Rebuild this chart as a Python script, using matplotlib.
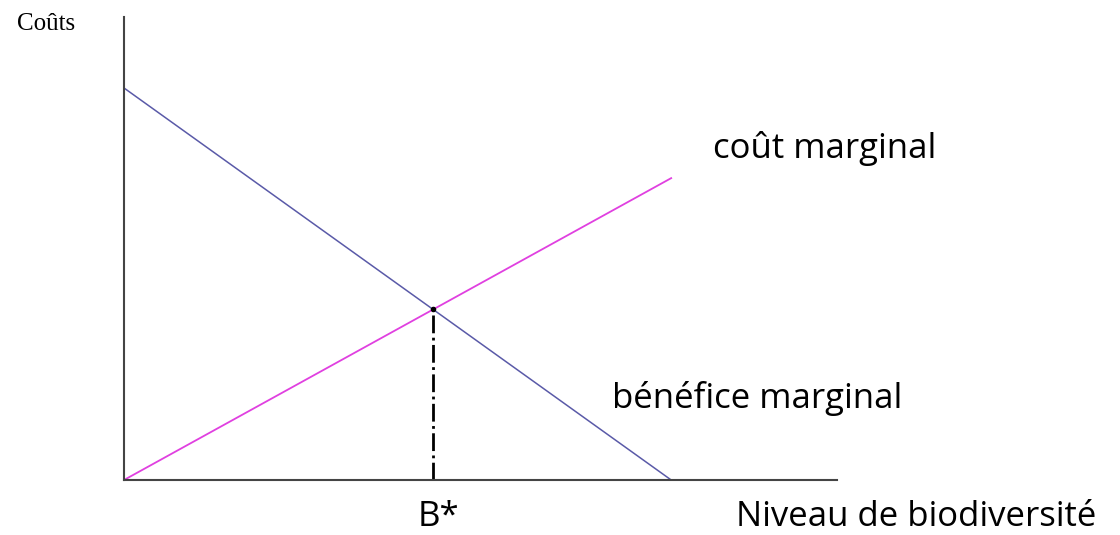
import matplotlib.pyplot as plt

# niveau de biodiversité (unités arbitraires)
niveau = [0, 10]
benefice_marginal = [10, 0]
cout_marginal = [0, 7.7]

# equilibre B*
b_star = 10 / (1 + 7.7 / 10)
c_star = 7.7 / 10 * b_star

fig = plt.figure(figsize=(11.2, 5.35), dpi=100)
ax = fig.add_axes([0.1107, 0.1028, 0.6366, 0.8654])

ax.plot(niveau, benefice_marginal, color='#5a5aa8', lw=1.1)
ax.plot(niveau, cout_marginal, color='#e040e0', lw=1.3)
ax.plot([b_star, b_star], [0, c_star], color='black', lw=2, ls='-.')
ax.plot([b_star], [c_star], 'o', color='black', ms=3)

ax.set_xlim(0, 13.03)
ax.set_ylim(0, 11.81)
ax.set_xticks([])
ax.set_yticks([])
for s in ['top', 'right']:
    ax.spines[s].set_visible(False)
for s in ['left', 'bottom']:
    ax.spines[s].set_color('#444444')
    ax.spines[s].set_linewidth(1.5)

fig.text(17 / 1120, 1 - 24 / 535, 'Coûts', family='Liberation Serif', fontsize=18, va='center')
fig.text(713 / 1120, 1 - 148 / 535, 'coût marginal', family='Open Sans', fontsize=25, va='center')
fig.text(612 / 1120, 1 - 398 / 535, 'bénéfice marginal', family='Open Sans', fontsize=25, va='center')
fig.text(418 / 1120, 1 - 517 / 535, 'B*', family='Open Sans', fontsize=25, va='center')
fig.text(736 / 1120, 1 - 517 / 535, 'Niveau de biodiversité', family='Open Sans', fontsize=25, va='center')

fig.savefig('out.png')
